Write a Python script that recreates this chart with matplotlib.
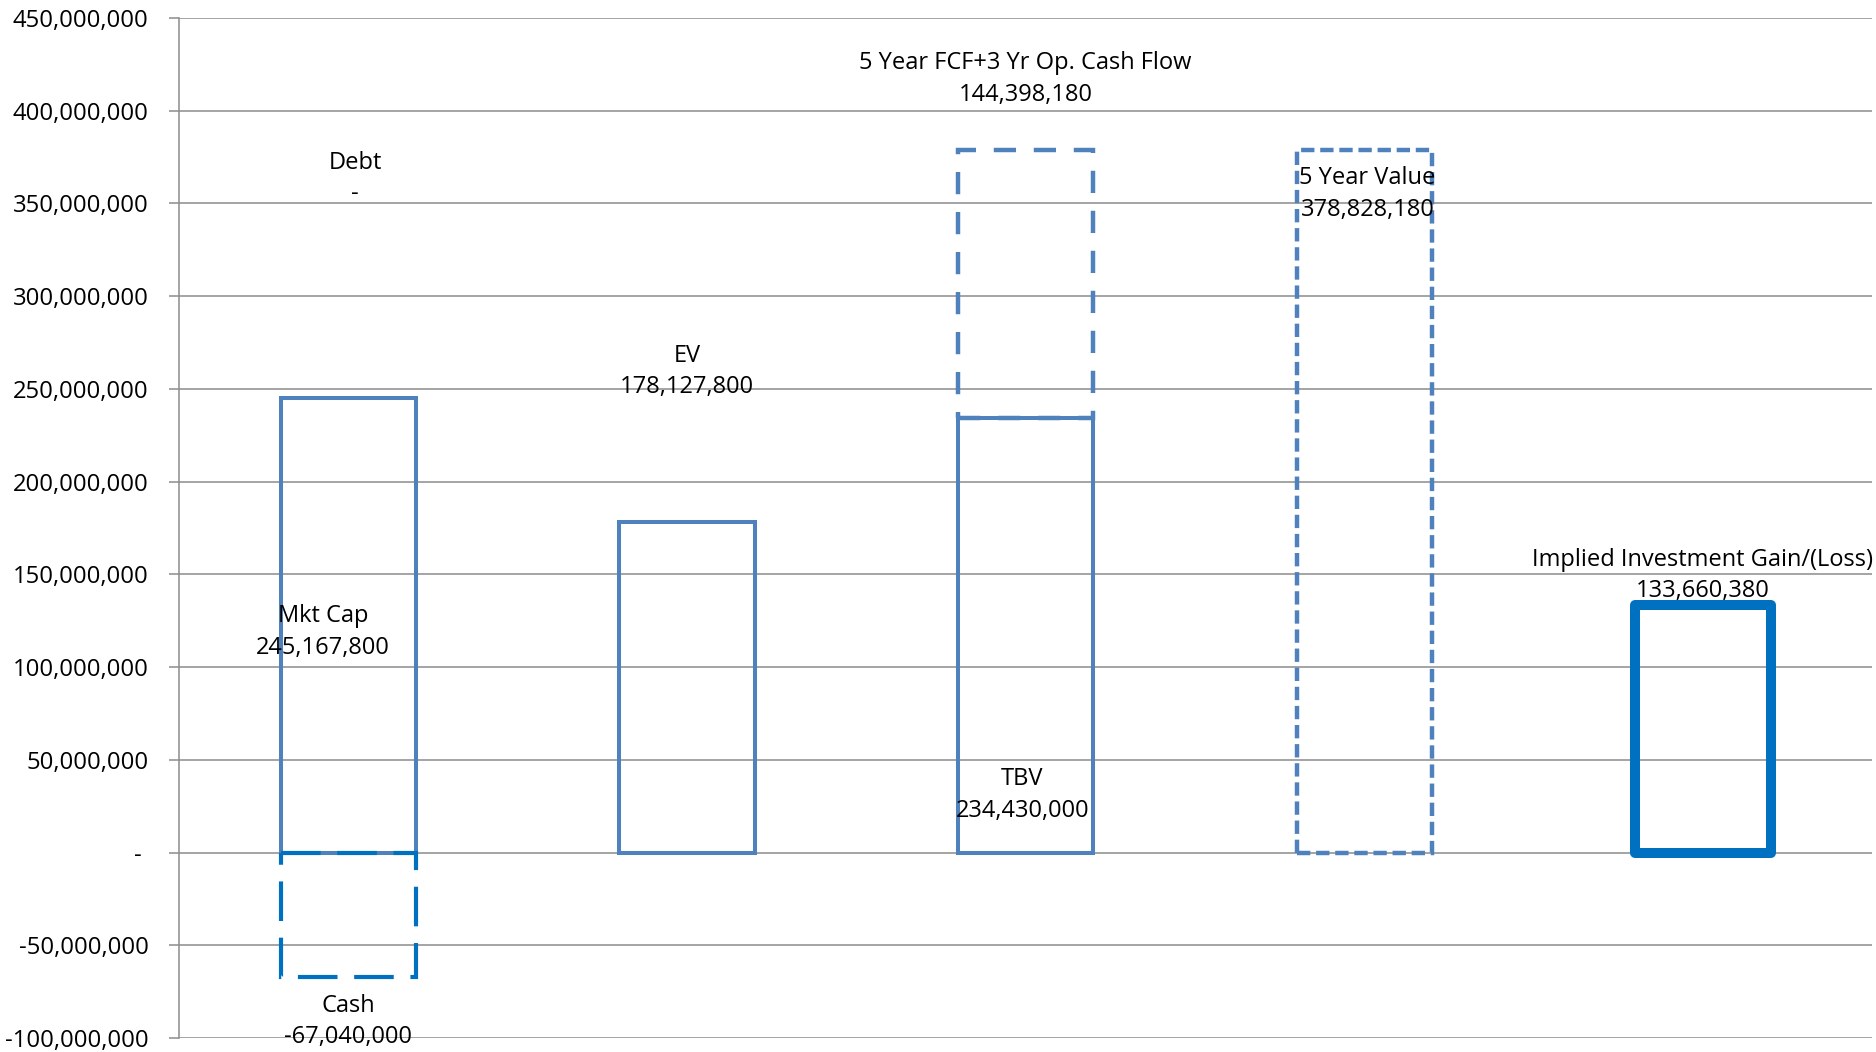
import matplotlib
matplotlib.use("Agg")
import matplotlib.pyplot as plt
from matplotlib.ticker import FuncFormatter, MultipleLocator

# ---- data ----
categories = ["Mkt Cap / Cash / Debt", "EV", "TBV + FCF", "5 Year Value", "Implied Gain"]
mkt_cap = 245167800
cash = -67040000
debt = 0
ev = 178127800
tbv = 234430000
fcf = 144398180
five_year_value = 378828180
implied_gain = 133660380

label_names = ["Debt", "Mkt Cap", "Cash", "EV", "5 Year FCF+3 Yr Op. Cash Flow", "TBV",
               "5 Year Value", "Implied Investment Gain/(Loss)"]
label_values = [debt, mkt_cap, cash, ev, fcf, tbv, five_year_value, implied_gain]
# label anchor positions (x category index, y data value) - layout only
label_pos = [(0.02, 363.5e6), (-0.075, 119e6), (0.0, -91e6), (1.0, 259.5e6),
             (2.0, 417e6), (1.99, 31e6), (3.01, 355e6), (4.0, 149.5e6)]

plt.rcParams['font.family'] = ['Open Sans', 'DejaVu Sans']

fig = plt.figure(figsize=(18.76, 10.52), dpi=100)
ax = fig.add_axes([0.0954, 0.0133, 0.9026, 0.9696])

c1 = "#4F81BD"
c2 = "#0070C0"
w = 0.40

ax.bar(0, mkt_cap, width=w, fill=False, edgecolor=c1, linewidth=2.9, zorder=3)
ax.bar(0, cash, width=w, fill=False, edgecolor=c2, linewidth=3.0,
       linestyle=(0, (9.5, 4)), zorder=4)
ax.bar(1, ev, width=w, fill=False, edgecolor=c1, linewidth=2.9, zorder=3)
ax.bar(2, tbv, width=w, fill=False, edgecolor=c1, linewidth=2.9, zorder=3)
ax.bar(2, fcf, bottom=tbv, width=w, fill=False, edgecolor=c1, linewidth=3.2,
       linestyle=(0, (5, 4)), zorder=3)
ax.bar(3, five_year_value, width=w, fill=False, edgecolor=c1, linewidth=3.2,
       linestyle=(0, (3, 1.3)), zorder=3)
ax.bar(4, implied_gain, width=w, fill=False, edgecolor=c2, linewidth=7.2,
       joinstyle='round', zorder=3)

def fmt_val(v):
    if v == 0:
        return "-"
    return f"{v:,.0f}"

for name, val, (x, y) in zip(label_names, label_values, label_pos):
    ax.text(x, y, f"{name}\n{fmt_val(val)}", ha="center", va="center",
            fontsize=17, color="black", linespacing=1.42, zorder=5)

ax.set_xlim(-0.5, 4.5)
ax.set_ylim(-100e6, 450e6)
ax.yaxis.set_major_locator(MultipleLocator(50e6))
ax.yaxis.set_major_formatter(FuncFormatter(lambda v, p: "- " if abs(v) < 1 else f"{v:,.0f}"))
ax.set_xticks([])
ax.grid(axis="y", color="#8C8C8C", linewidth=1.1, zorder=0)
for s in ["top", "right", "bottom"]:
    ax.spines[s].set_visible(False)
ax.spines["left"].set_color("#8C8C8C")
ax.spines["left"].set_linewidth(1.1)
ax.tick_params(axis="y", length=7, width=1.1, color="#8C8C8C", labelsize=17.2, pad=15)

fig.savefig("out.png", dpi=100)
